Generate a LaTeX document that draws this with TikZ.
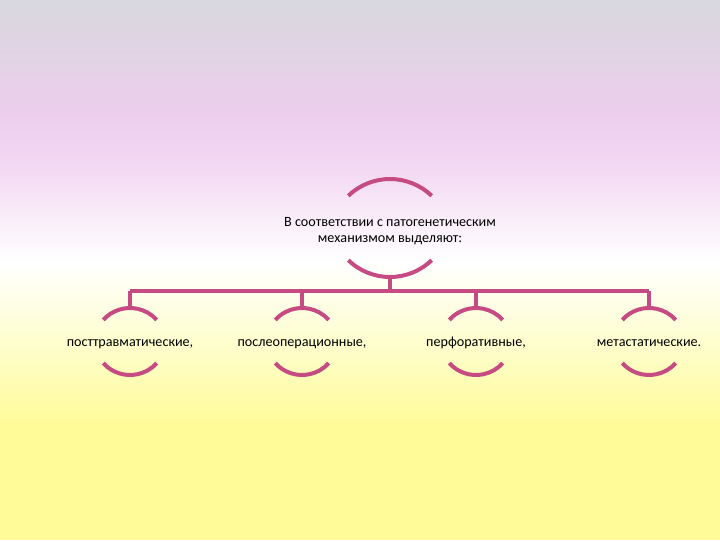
\documentclass[tikz,border=0pt]{standalone}
\usepackage{fontspec}
\setmainfont{Carlito}
\usetikzlibrary{calc}
\definecolor{bgA}{RGB}{216,216,222}
\definecolor{bgB}{RGB}{236,206,236}
\definecolor{bgC}{RGB}{242,214,242}
\definecolor{bgD}{RGB}{255,255,255}
\definecolor{bgE}{RGB}{254,254,214}
\definecolor{bgF}{RGB}{255,251,152}
\definecolor{arcpink}{RGB}{197,75,130}
\tikzset{%
  arcline/.style={draw=arcpink, line width=3pt},
  link/.style={draw=arcpink, line width=3.3pt},
  lbl/.style={align=center, font=\fontsize{10.6}{12}\selectfont, inner sep=0pt},
  leaf/.style={lbl, text height=7pt, text depth=2pt},
}

\begin{document}
\begin{tikzpicture}[x=0.75pt, y=0.75pt]

    % background
    \useasboundingbox (0,0) rectangle (720,540);
    \shade[top color=bgA, bottom color=bgB] (0,540) rectangle (720,429.5);
    \shade[top color=bgB, bottom color=bgC] (0,430) rectangle (720,379.5);
    \shade[top color=bgC, bottom color=bgD] (0,380) rectangle (720,277.5);
    \shade[top color=bgD, bottom color=bgE] (0,278) rectangle (720,209.5);
    \shade[top color=bgE, bottom color=bgF] (0,210) rectangle (720,114.5);
    \fill[bgF] (0,115) rectangle (720,0);

    % Define the nodes
    \node[lbl] (top) at (390,309) {В соответствии с патогенетическим\\механизмом выделяют:};
    \node[leaf] (post) at (130,197) {посттравматические,};
    \node[leaf] (oper) at (302,197) {послеоперационные,};
    \node[leaf] (perf) at (476,197) {перфоративные,};
    \node[leaf] (meta) at (649,197) {метастатические.};
    \coordinate (bar) at (0,249);

    %arcs of top node
    \draw[arcline] ($(top)+(0,-8)+(134:60)$) arc[start angle=134, end angle=46, radius=60];
    \draw[arcline] ($(top)+(0,14)+(226:60)$) arc[start angle=226, end angle=314, radius=60];
    \coordinate (topjoin) at ($(top)+(0,-46)$);

    %arcs of child nodes
    \foreach \n in {post,oper,perf,meta}{
      \draw[arcline] ($(\n)+(0,-1)+(138:36)$) arc[start angle=138, end angle=42, radius=36];
      \draw[arcline] ($(\n)+(0,4)+(222:36)$) arc[start angle=222, end angle=318, radius=36];
      \coordinate (\n-join) at ($(\n)+(0,34)$);
    }

    %connectors
    \draw[link] (topjoin) -- (topjoin |- bar);
    \draw[link] (post-join |- bar) -- (meta-join |- bar);
    \foreach \n in {post,oper,perf,meta}
      \draw[link] (\n-join |- bar) -- (\n-join);

\end{tikzpicture}
\end{document}
